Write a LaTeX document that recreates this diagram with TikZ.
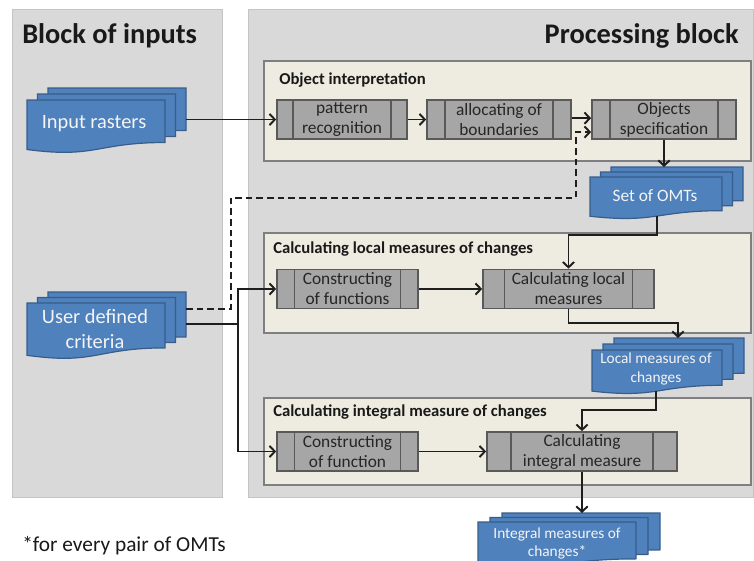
\documentclass[tikz,border=0pt]{standalone}
\usepackage{fontspec}
\setmainfont{Carlito}
\usetikzlibrary{arrows.meta,calc}
\definecolor{panelfill}{HTML}{D9D9D9}
\definecolor{panelline}{HTML}{C4C4C4}
\definecolor{boxfill}{HTML}{EEECE1}
\definecolor{boxline}{HTML}{7F7F7F}
\definecolor{procfill}{HTML}{A6A6A6}
\definecolor{procline}{HTML}{595959}
\definecolor{proctext}{HTML}{262626}
\definecolor{docfill}{HTML}{4F81BD}
\definecolor{docline}{HTML}{385D8A}
\definecolor{doctext}{HTML}{F4F4F4}
\definecolor{conn}{HTML}{1E1E1E}
% one layer of a document shape: x y w h (pixel units, y downwards)
\newcommand\mdlayer[4]{%
  \path[doclayer] ({#1},{#2}) -- ({#1+#3},{#2}) -- ({#1+#3},{#2+0.802*#4})
    .. controls ({#1+0.5*#3},{#2+0.802*#4}) and ({#1+0.5*#3},{#2+1.108*#4}) ..
    ({#1},{#2+0.934*#4}) -- cycle;}
% multi-document: name x y w h dx dy  (x,y = top-left of the front layer)
\newcommand\mdoc[7]{%
  \mdlayer{#2+2*#6}{#3-2*#7}{#4}{#5}%
  \mdlayer{#2+#6}{#3-#7}{#4}{#5}%
  \mdlayer{#2}{#3}{#4}{#5}%
  \node[inner sep=0pt, outer sep=0pt,
        minimum width={(#4+2*#6)*0.75pt},
        minimum height={(0.934*#5+2*#7)*0.75pt}]
        (#1) at ({#2+#6+0.5*#4},{#3-#7+0.467*#5}) {};}
\begin{document}
\begin{tikzpicture}[x=0.75pt,y=-0.75pt,
  panel/.style={draw=panelline, fill=panelfill, line width=1.1pt, anchor=north west, inner sep=0pt},
  stagebox/.style={draw=boxline, fill=boxfill, line width=1.3pt, anchor=north west, inner sep=0pt,
     minimum width=365.25pt},
  stagetitle/.style={anchor=base west, inner sep=0pt, font=\fontsize{12.5}{15}\selectfont\bfseries, text=black!90},
  blocktitle/.style={inner sep=0pt, font=\fontsize{21.3}{25}\selectfont\bfseries, text=black!90},
  procbox/.style={draw=procline, fill=procfill, line width=1.3pt, inner sep=0pt, align=center,
     minimum height=29.25pt, text=proctext, font=\fontsize{13}{15}\selectfont,
     path picture={
       \draw[procline, line width=1.3pt]
         ($(path picture bounding box.north west)!0.125!(path picture bounding box.north east)$) --
         ($(path picture bounding box.south west)!0.125!(path picture bounding box.south east)$);
       \draw[procline, line width=1.3pt]
         ($(path picture bounding box.north west)!0.875!(path picture bounding box.north east)$) --
         ($(path picture bounding box.south west)!0.875!(path picture bounding box.south east)$);}},
  doclayer/.style={draw=docline, fill=docfill, line width=0.9pt},
  doctext/.style={inner sep=0pt, align=center, text=doctext},
  arr/.style={draw=conn, line width=1.45pt, -{Straight Barb[length=4pt,width=8.5pt]}},
  dsh/.style={arr, dash pattern=on 5pt off 3pt}]
\useasboundingbox (0,0) rectangle (754,561);
\fill[white] (0,0) rectangle (754,561);

% panels
\node[panel, minimum width=157.5pt, minimum height=366pt] (leftpanel) at (12,9) {};
\node[panel, minimum width=378.75pt, minimum height=366pt] (rightpanel) at (248,9) {};
\node[blocktitle, anchor=base west] (tin) at (22,43) {Block of inputs};
\node[blocktitle, anchor=base east] (tpr) at (739,43) {Processing block};

% stage boxes
\node[stagebox, minimum height=75pt] (stA) at (263,60) {};
\node[stagebox, minimum height=75pt] (stB) at (263,232) {};
\node[stagebox, minimum height=65.25pt] (stC) at (263,397) {};
\node[stagetitle] (ttA) at (279,84) {Object interpretation};
\node[stagetitle] (ttB) at (273,253) {Calculating local measures of changes};
\node[stagetitle] (ttC) at (273,416) {Calculating integral measure of changes};

% process boxes
\node[procbox, minimum width=97.5pt] (p1) at (342,119.5) {pattern\\recognition};
\node[procbox, minimum width=108pt] (p2) at (499,119.5) {allocating of\\boundaries};
\node[procbox, minimum width=108pt] (p3) at (664,119.5) {Objects\\specification};
\node[procbox, minimum width=105.75pt] (p4) at (347.5,289) {Constructing\\of functions};
\node[procbox, minimum width=128.25pt] (p5) at (568.5,289) {Calculating local\\measures};
\node[procbox, minimum width=105.75pt] (p6) at (347.5,451.5) {Constructing\\of function};
\node[procbox, minimum width=142.5pt] (p7) at (582,451.5) {Calculating\\integral measure};

% documents
\mdoc{inr}{27}{100}{138}{53}{10.5}{6}
\node[doctext, font=\fontsize{15.3}{18}\selectfont] (inr-t) at (94,124) {Input rasters};
\mdoc{udc}{27}{303}{138}{56}{10.5}{5.5}
\node[doctext, font=\fontsize{15.3}{19}\selectfont] (udc-t) at (95,329) {User defined\\criteria};
\mdoc{oms}{590}{177}{132}{42}{10.5}{5}
\node[doctext, font=\fontsize{13}{16}\selectfont] (oms-t) at (655,196) {Set of OMTs};
\mdoc{lmc}{592}{350}{130}{44}{11}{6}
\node[doctext, font=\fontsize{11.5}{14.5}\selectfont] (lmc-t) at (656,369) {Local measures of\\changes};
\mdoc{imc}{478}{522}{158}{46}{12}{4.5}
\node[doctext, font=\fontsize{11.5}{13.5}\selectfont] (imc-t) at (557,543) {Integral measures of\\changes*};

% footnote
\node[anchor=base west, inner sep=0pt, font=\fontsize{16}{19}\selectfont, text=black!90] (foot) at (22,551) {*for every pair of OMTs};

% connectors
\draw[arr] (inr.east |- p1.west) -- (p1.west);
\draw[arr] (p1) -- (p2);
\draw[arr] ([yshift=1pt]p2.east) -- ([yshift=1pt]p3.west);
\draw[dsh] ([yshift=11.25pt]udc.east) -- ++(45,0) -- ++(0,-111) -- ++(345,0) |- ([yshift=-9.4pt]p3.west);
\draw[conn, line width=1.45pt] (udc.east) -- ++(52,0) coordinate (split);
\draw[arr] (split) |- (p4.west);
\draw[arr] (split) |- (p6.west);
\draw[arr] (p3.south) -- (p3.south |- oms.north);
\draw[arr] ([xshift=-7pt]oms.south) -- ++(0,19) -| (p5.north);
\draw[arr] (p4) -- (p5);
\draw[arr] (p5.south) -- ++(0,14) -| ([xshift=7.5pt]lmc.north);
\draw[arr] ([xshift=-9pt]lmc.south) -- ++(0,19) -| (p7.north);
\draw[arr] (p6) -- (p7);
\draw[arr] (p7.south) -- (p7.south |- imc.north);
\end{tikzpicture}
\end{document}
